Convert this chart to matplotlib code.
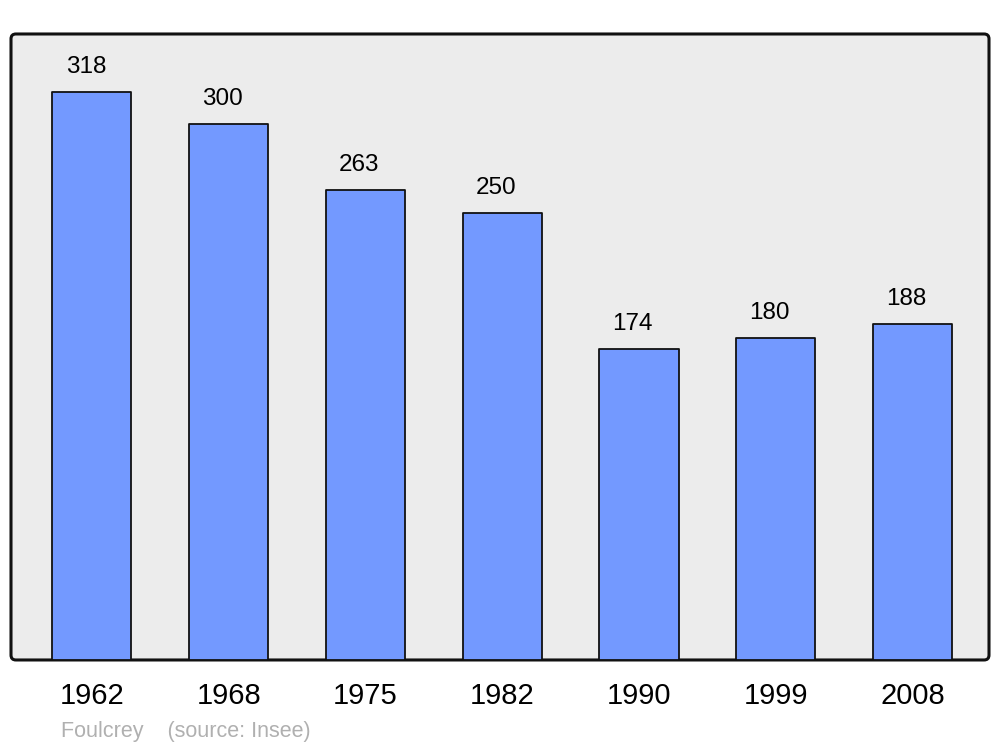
import matplotlib
matplotlib.use("Agg")
import matplotlib.pyplot as plt
from matplotlib.patches import FancyBboxPatch

years = ["1962", "1968", "1975", "1982", "1990", "1999", "2008"]
population = [318, 300, 263, 250, 174, 180, 188]
source_text = "Foulcrey    (source: Insee)"

plt.rcParams['font.family'] = ['Liberation Sans', 'DejaVu Sans']

fig = plt.figure(figsize=(10, 7.47), dpi=100)
ax = fig.add_axes([0.011, 0.1165, 0.978, 0.838])
ax.patch.set_visible(False)
for s in ax.spines.values():
    s.set_visible(False)

frame = FancyBboxPatch((0, 0), 1, 1, boxstyle="round,pad=0,rounding_size=0.005",
                       mutation_aspect=1.566, transform=ax.transAxes,
                       facecolor="#ececec", edgecolor="#111111", linewidth=2.2,
                       clip_on=False, zorder=0)
ax.add_patch(frame)

x = list(range(len(years)))
bars = ax.bar(x, population, width=0.578, color="#7399ff", edgecolor="#111111",
              linewidth=1.3, zorder=2)
for b in bars:
    b.set_joinstyle("round")

for xi, v in zip(x, population):
    ax.annotate(str(v), (xi - 0.045, v), xytext=(0, 14), textcoords="offset points",
                ha="center", va="baseline", fontsize=17.5, color="black")

ax.set_xlim(-0.592, 6.559)
ax.set_ylim(0, 350.5)
ax.set_yticks([])
ax.set_xticks(x)
ax.set_xticklabels(years, fontsize=21)
ax.tick_params(axis="x", length=0, pad=16)

fig.text(0.061, 1 - 731 / 747, source_text, fontsize=15.5, color="#b0b0b0",
         ha="left", va="center")

fig.savefig("out.png", dpi=100)
